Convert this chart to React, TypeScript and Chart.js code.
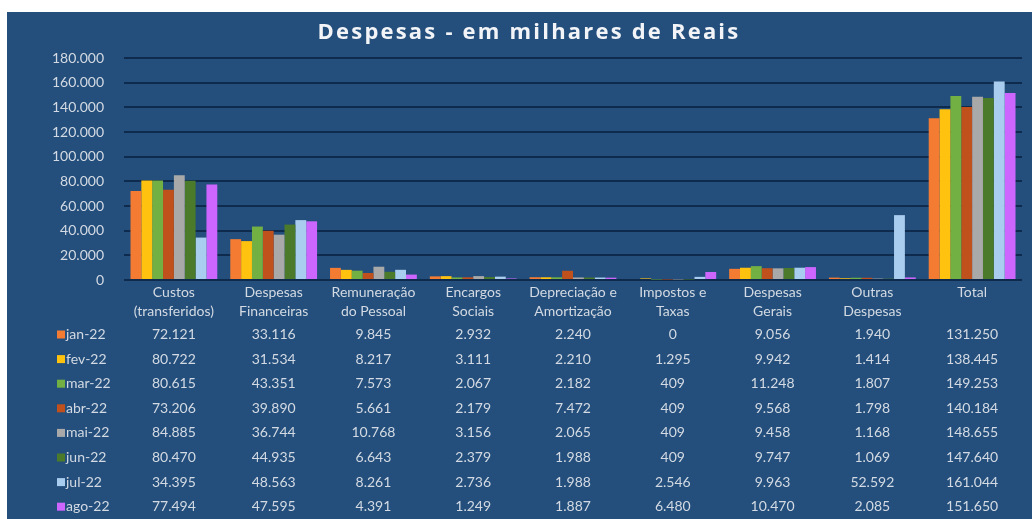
import React, { useEffect, useRef } from "react";
import { Chart, registerables } from "chart.js";

Chart.register(...registerables);

const categories: string[][] = [
  ["Custos", "(transferidos)"],
  ["Despesas", "Financeiras"],
  ["Remuneração", "do Pessoal"],
  ["Encargos", "Sociais"],
  ["Depreciação e", "Amortização"],
  ["Impostos e", "Taxas"],
  ["Despesas", "Gerais"],
  ["Outras", "Despesas"],
  ["Total"],
];

const months = ["jan-22", "fev-22", "mar-22", "abr-22", "mai-22", "jun-22", "jul-22", "ago-22"];

const jan22 = [72121, 33116, 9845, 2932, 2240, 0, 9056, 1940, 131250];
const fev22 = [80722, 31534, 8217, 3111, 2210, 1295, 9942, 1414, 138445];
const mar22 = [80615, 43351, 7573, 2067, 2182, 409, 11248, 1807, 149253];
const abr22 = [73206, 39890, 5661, 2179, 7472, 409, 9568, 1798, 140184];
const mai22 = [84885, 36744, 10768, 3156, 2065, 409, 9458, 1168, 148655];
const jun22 = [80470, 44935, 6643, 2379, 1988, 409, 9747, 1069, 147640];
const jul22 = [34395, 48563, 8261, 2736, 1988, 2546, 9963, 52592, 161044];
const ago22 = [77494, 47595, 4391, 1249, 1887, 6480, 10470, 2085, 151650];

const seriesValues = [jan22, fev22, mar22, abr22, mai22, jun22, jul22, ago22];
const monthColors = ["#f47c32", "#ffc20e", "#72b043", "#c0501c", "#a9a9a9", "#4a7a2a", "#a9cdee", "#cc66ff"];

const yMax = 180000;
const yStep = 20000;
const title = "Despesas - em milhares de Reais";

const FONT = "Lato, 'Open Sans', sans-serif";
const TEXT = "#d3dae3";
const BG = "#244f7c";
const GRID = "#0e2b4e";

const fmt = (v: number) => (v === 0 ? "0" : v.toLocaleString("de-DE"));

export default function App() {
  const ref = useRef<HTMLCanvasElement | null>(null);
  useEffect(() => {
    if (!ref.current) return;
    const frame = {
      id: "frame",
      beforeDraw(chart: any) {
        const ctx = chart.ctx;
        ctx.save();
        ctx.fillStyle = "#ffffff";
        ctx.fillRect(0, 0, chart.width, chart.height);
        ctx.fillStyle = BG;
        ctx.fillRect(7, 12, 1025, 507);
        ctx.fillStyle = "#f2f4f7";
        ctx.font = `bold 22px 'Open Sans', sans-serif`;
        (ctx as any).letterSpacing = "2.2px";
        ctx.textAlign = "center";
        ctx.textBaseline = "middle";
        ctx.fillText(title, 529, 33);
        ctx.restore();
      },
      afterDraw(chart: any) {
        const ctx = chart.ctx;
        const xs = chart.scales.x;
        ctx.save();
        ctx.font = `14px ${FONT}`;
        ctx.textBaseline = "middle";
        months.forEach((m, i) => {
          const y = 334.5 + i * 24.6;
          ctx.fillStyle = monthColors[i];
          ctx.fillRect(57, y - 4, 8, 8);
          ctx.fillStyle = TEXT;
          ctx.textAlign = "left";
          ctx.fillText(m, 66, y);
          ctx.textAlign = "center";
          seriesValues[i].forEach((v, j) => {
            ctx.fillText(fmt(v), xs.getPixelForValue(j), y);
          });
        });
        ctx.restore();
      },
    };
    const chart = new Chart(ref.current, {
      type: "bar",
      data: {
        labels: categories as any,
        datasets: months.map((m, i) => ({
          label: m,
          data: seriesValues[i],
          backgroundColor: monthColors[i],
          borderWidth: 0,
          barPercentage: 1,
          categoryPercentage: 0.87,
        })),
      },
      options: {
        responsive: false,
        animation: false,
        layout: { padding: { top: 58, right: 11, left: 0, bottom: 0 } },
        plugins: {
          legend: { display: false },
          tooltip: { enabled: false },
          title: { display: false },
        },
        scales: {
          x: {
            grid: { display: false, drawTicks: false },
            border: { display: false },
            ticks: {
              color: TEXT,
              font: { family: FONT, size: 14, lineHeight: 1.35 },
              padding: 3,
              maxRotation: 0,
              autoSkip: false,
            },
            afterFit(s: any) {
              s.height = 239;
            },
          },
          y: {
            min: 0,
            max: yMax,
            grid: { color: GRID, lineWidth: 2, drawTicks: false },
            border: { display: false },
            ticks: {
              stepSize: yStep,
              color: TEXT,
              font: { family: FONT, size: 14 },
              padding: 20,
              callback: (v: any) => fmt(Number(v)),
            },
            afterFit(s: any) {
              s.width = 124;
              s.paddingTop = 0;
              s.paddingBottom = 0;
            },
          },
        },
      },
      plugins: [frame],
    });
    return () => chart.destroy();
  }, []);
  return (
    <div style={{ position: "fixed", left: 0, top: 0, width: 1033, height: 519, background: "#fff" }}>
      <canvas ref={ref} width={1033} height={519} style={{ display: "block" }} />
    </div>
  );
}
